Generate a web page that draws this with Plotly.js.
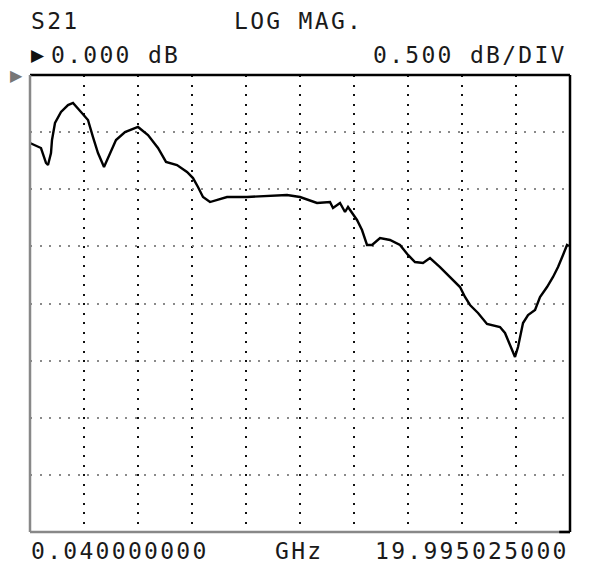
<!DOCTYPE html>
<html>
<head>
<meta charset="utf-8">
<script src="https://cdn.plot.ly/plotly-3.0.1.min.js"></script>
<style>
  html, body { margin: 0; padding: 0; background: #fff; }
  #chart { width: 600px; height: 583px; }
  .annotation-text { letter-spacing: 2.3px; }
</style>
</head>
<body>
<div id="chart"></div>
<script>
// Frequency (GHz)
const freqGHz = [0.04, 0.225, 0.446, 0.631, 0.705, 0.816, 0.853, 0.964, 1.186, 1.444,
  1.629, 1.925, 2.183, 2.368, 2.553, 2.775, 2.996, 3.218, 3.551, 4.031,
  4.401, 4.770, 5.066, 5.472, 5.842, 6.064, 6.248, 6.433, 6.692, 6.988,
  7.320, 8.059, 8.798, 9.537, 10.018, 10.646, 11.126, 11.237, 11.496, 11.681,
  11.792, 11.939, 12.124, 12.309, 12.494, 12.679, 12.975, 13.343, 13.713, 14.009,
  14.267, 14.563, 14.822, 15.191, 15.561, 15.930, 16.115, 16.300, 16.596, 16.928,
  17.408, 17.593, 17.778, 17.963, 18.074, 18.259, 18.444, 18.703, 18.887, 19.146,
  19.368, 19.553, 19.737, 19.885, 19.959];
// S21 magnitude (dB)
const s21dB = [-0.595, -0.613, -0.639, -0.770, -0.788, -0.683, -0.569, -0.420, -0.324, -0.263,
  -0.245, -0.324, -0.394, -0.543, -0.683, -0.805, -0.683, -0.569, -0.499, -0.455,
  -0.525, -0.639, -0.761, -0.788, -0.849, -0.902, -0.980, -1.068, -1.112, -1.094,
  -1.068, -1.068, -1.059, -1.050, -1.068, -1.120, -1.112, -1.164, -1.120, -1.199,
  -1.155, -1.208, -1.269, -1.357, -1.488, -1.488, -1.427, -1.444, -1.488, -1.575,
  -1.637, -1.646, -1.602, -1.681, -1.768, -1.856, -1.943, -2.013, -2.083, -2.179,
  -2.206, -2.258, -2.363, -2.468, -2.381, -2.171, -2.101, -2.057, -1.943, -1.856,
  -1.768, -1.681, -1.575, -1.488, -1.497];

const startFreq = 0.04, stopFreq = 19.995025;
const refLevel = 0, scalePerDiv = 0.5, yDivs = 8, xDivs = 10;

const headerLeft = "S21";
const headerMid = "LOG MAG.";
const refText = "0.000 dB";
const scaleText = "0.500 dB/DIV";
const startText = "0.040000000";
const unitText = "GHz";
const stopText = "19.995025000";

const mono = {family: "DejaVu Sans Mono, monospace", size: 23, color: "#1a1a1a"};

const trace = {
  x: freqGHz, y: s21dB, type: "scatter", mode: "lines",
  line: {color: "#000", width: 2.4}, hoverinfo: "skip"
};

function ann(text, x, y, xanchor, font) {
  return {text, x, y, xref: "paper", yref: "paper", xanchor, yanchor: "middle",
    showarrow: false, borderpad: 0, font: font || mono};
}

const layout = {
  width: 600, height: 583,
  margin: {l: 30, r: 30, t: 75, b: 51, pad: 0},
  paper_bgcolor: "#fff", plot_bgcolor: "#fff",
  showlegend: false,
  xaxis: {
    range: [startFreq, stopFreq], tick0: startFreq, dtick: (stopFreq - startFreq) / xDivs,
    showticklabels: false, ticks: "", zeroline: false, showline: false,
    showgrid: true, gridcolor: "#111", gridwidth: 2, griddash: "2px,7.5px", fixedrange: true
  },
  yaxis: {
    range: [refLevel - scalePerDiv * yDivs, refLevel], tick0: refLevel, dtick: scalePerDiv,
    showticklabels: false, ticks: "", zeroline: false, showline: false,
    showgrid: true, gridcolor: "#8a8a8a", gridwidth: 2, griddash: "2px,7.5px", fixedrange: true
  },
  shapes: [
    {type: "line", xref: "paper", yref: "paper", x0: 0, x1: 1, y0: 1, y1: 1, line: {color: "#000", width: 2.5}},
    {type: "line", xref: "paper", yref: "paper", x0: 1, x1: 1, y0: 0, y1: 1, line: {color: "#000", width: 2.5}},
    {type: "line", xref: "paper", yref: "paper", x0: 0, x1: 0, y0: 0, y1: 1, line: {color: "#888", width: 2.5}},
    {type: "line", xref: "paper", yref: "paper", x0: 0, x1: 1, y0: 0, y1: 0, line: {color: "#888", width: 2.5}},
    {type: "line", xref: "paper", yref: "paper", x0: 0.98, x1: 1, y0: 0, y1: 0, line: {color: "#000", width: 2.5}}
  ],
  annotations: [
    ann(headerLeft, 0, 1.118, "left"),
    ann(headerMid, 0.376, 1.118, "left"),
    ann("▶", 0.0165, 1.0438, "center", {family: "DejaVu Sans", size: 17, color: "#111"}),
    ann(refText, 0.037, 1.0438, "left"),
    ann(scaleText, 0.996, 1.0438, "right"),
    ann("▶", -0.024, 1.0, "center", {family: "DejaVu Sans", size: 16, color: "#777"}),
    ann(startText, 0, -0.0416, "left"),
    ann(unitText, 0.452, -0.0416, "left"),
    ann(stopText, 1.0, -0.0416, "right")
  ]
};

Plotly.newPlot("chart", [trace], layout, {staticPlot: true, displayModeBar: false});
</script>
</body>
</html>
